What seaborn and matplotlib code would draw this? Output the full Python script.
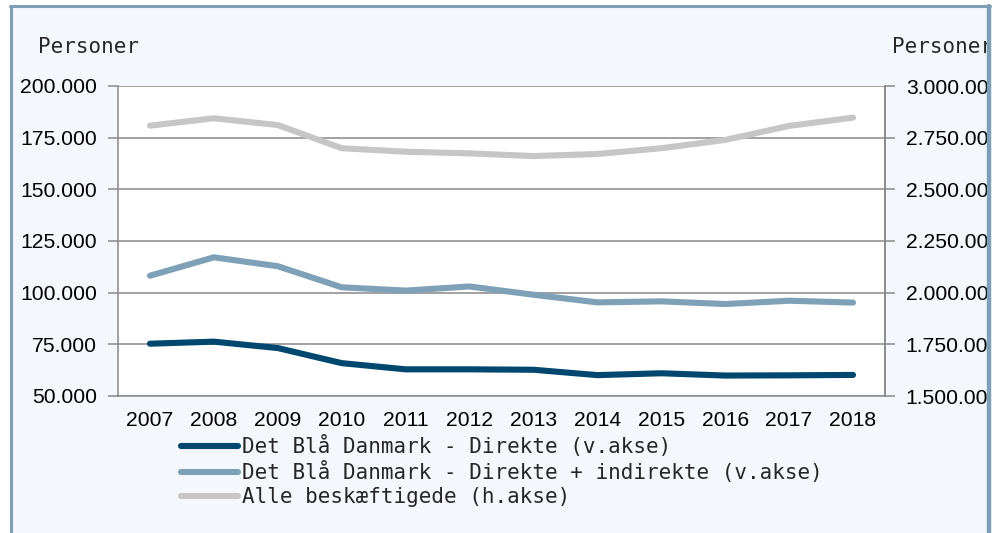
import numpy as np
import pandas as pd
import matplotlib
matplotlib.use("Agg")
import matplotlib.pyplot as plt
import seaborn as sns
from matplotlib.patches import Rectangle
from matplotlib.ticker import FuncFormatter, FixedLocator

# data
years = list(range(2007, 2019))
direkte = [75300, 76300, 73200, 65900, 62900, 62900, 62700, 60100, 61000, 59900, 60000, 60200]
direkte_indirekte = [108200, 117100, 112800, 102600, 101000, 103000, 99000, 95300, 95800, 94500, 96100, 95200]
alle = [2808000, 2844000, 2811000, 2699000, 2682000, 2674000, 2661000, 2671000, 2699000, 2739000, 2807000, 2847000]

labels = ["Det Blå Danmark - Direkte (v.akse)",
          "Det Blå Danmark - Direkte + indirekte (v.akse)",
          "Alle beskæftigede (h.akse)"]
colors = ["#00476f", "#7ea1b8", "#c6c6c6"]

sns.set_theme(style="white")
plt.rcParams["font.family"] = ["Liberation Sans", "DejaVu Sans"]

W, H = 1005, 533
fig = plt.figure(figsize=(W / 100, H / 100), dpi=100, facecolor="white")
ax = fig.add_axes([118 / W, 1 - 396 / H, (885 - 118) / W, (396 - 86) / H])
ax.set_facecolor("white")
ax2 = ax.twinx()

# background panel behind everything
fig.add_artist(Rectangle((10 / W, -0.1), (991 - 10) / W, 1.1 - 6 / H,
                         transform=fig.transFigure, facecolor="#f4f8fc",
                         edgecolor="none", zorder=-5))

df = pd.DataFrame({"year": years, "d": direkte, "di": direkte_indirekte, "alle": alle})
lw = 4.4
sns.lineplot(data=df, x="year", y="d", ax=ax, color=colors[0], lw=lw,
             solid_capstyle="round", label=labels[0], zorder=3)
sns.lineplot(data=df, x="year", y="di", ax=ax, color=colors[1], lw=lw,
             solid_capstyle="round", label=labels[1], zorder=3)
sns.lineplot(data=df, x="year", y="alle", ax=ax2, color=colors[2], lw=lw,
             solid_capstyle="round", label=labels[2], zorder=3)

grey = "#888888"
tsize = 15.2
ax.set_xlim(2006.5, 2018.5)
ax.set_ylim(50000, 200000)
ax2.set_ylim(1500000, 3000000)
ax.set_yticks(np.arange(50000, 200001, 25000))
ax2.set_yticks(np.arange(1500000, 3000001, 250000))
fmt = FuncFormatter(lambda v, p: f"{v:,.0f}".replace(",", "."))
ax.yaxis.set_major_formatter(fmt)
ax2.yaxis.set_major_formatter(fmt)

# category axis: ticks at boundaries, labels at centers
ax.xaxis.set_major_locator(FixedLocator(np.arange(2006.5, 2019, 1)))
ax.xaxis.set_minor_locator(FixedLocator(years))
ax.set_xticklabels([])
ax.set_xticklabels([str(y) for y in years], minor=True)
ax.tick_params(axis="x", which="major", length=7, width=1.1, color=grey, direction="out")
ax.tick_params(axis="x", which="minor", length=0, pad=10.5, labelsize=tsize, labelcolor="black")
ax.tick_params(axis="y", length=7, width=1.1, color=grey, direction="out", pad=8,
               labelsize=tsize, labelcolor="black", left=True)
ax2.tick_params(axis="y", length=7, width=1.1, color=grey, direction="out", pad=8,
                labelsize=tsize, labelcolor="black", right=True)

ax.grid(axis="y", color=grey, lw=1.1)
ax.grid(axis="x", visible=False)
ax.set_axisbelow(True)
for a in (ax, ax2):
    a.set_xlabel("")
    a.set_ylabel("")
    for s in a.spines.values():
        s.set_color(grey)
        s.set_linewidth(1.1)
    a.spines["top"].set_visible(False)
ax2.spines["left"].set_visible(False)
ax2.spines["bottom"].set_visible(False)

h1, l1 = ax.get_legend_handles_labels()
h2, l2 = ax2.get_legend_handles_labels()
ax.get_legend().remove()
ax2.get_legend().remove()
mono = {"family": "DejaVu Sans Mono", "size": 15}
fig.legend(h1 + h2, l1 + l2, loc="upper left", bbox_to_anchor=(181 / W, 1 - 435 / H),
           frameon=False, borderpad=0, borderaxespad=0, handlelength=2.75,
           handletextpad=0.2, labelspacing=0.2, prop=mono)

fig.text(38 / W, 1 - 47 / H, "Personer", ha="left", va="center", fontdict=mono)
fig.text(892 / W, 1 - 47 / H, "Personer", ha="left", va="center", fontdict=mono)

# frame lines and white margin on the right, drawn on top
fig.add_artist(Rectangle((991 / W, 0), 1, 1, transform=fig.transFigure,
                         facecolor="white", edgecolor="none", zorder=10))
bc = "#7f9fb7"
fig.add_artist(plt.Line2D([10.5 / W, 10.5 / W], [0, 1 - 6 / H], transform=fig.transFigure,
                          color=bc, lw=2.2, zorder=11))
fig.add_artist(plt.Line2D([10 / W, 990 / W], [1 - 6 / H, 1 - 6 / H], transform=fig.transFigure,
                          color=bc, lw=2.2, zorder=11))
fig.add_artist(plt.Line2D([989 / W, 989 / W], [0, 1 - 6 / H], transform=fig.transFigure,
                          color=bc, lw=3.2, zorder=11))

fig.savefig("out.png", dpi=100, facecolor="white")
